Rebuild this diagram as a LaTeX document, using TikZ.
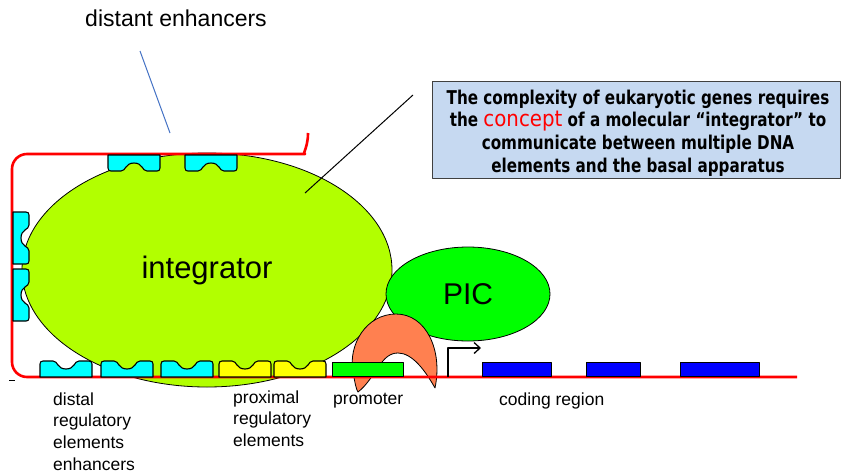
\documentclass[tikz,border=0pt]{standalone}
\usepackage{fontspec}
\setmainfont{Liberation Sans}
\newfontfamily\boxfont[FakeStretch=0.8]{DejaVu Sans}
\newfontfamily\conceptfont[FakeStretch=0.9]{DejaVu Sans}
\usetikzlibrary{shapes.geometric,arrows.meta}

\definecolor{dnared}{RGB}{255,0,0}
\definecolor{integgreen}{RGB}{178,255,0}
\definecolor{picgreen}{RGB}{0,255,0}
\definecolor{sitecyan}{RGB}{0,255,255}
\definecolor{siteyellow}{RGB}{255,255,0}
\definecolor{exonblue}{RGB}{0,0,255}
\definecolor{factororange}{RGB}{255,128,80}
\definecolor{noteblue}{RGB}{198,217,241}
\definecolor{pointerblue}{RGB}{68,114,196}

\tikzset{
  pics/site/.style={code={
    \path[pic actions] (0,0) -- (0,13) .. controls (0,15) and (1,16) .. (3,16)
      -- (13,16) .. controls (18,16) and (17,8) .. (26,8)
      .. controls (35,8) and (34,16) .. (39,16)
      -- (49,16) .. controls (51,16) and (52,15) .. (52,13) -- (52,0) -- cycle;
  }},
}

\begin{document}
\begin{tikzpicture}[x=1pt,y=-1pt,line join=round,
  dna/.style={draw=dnared,line width=2.6pt},
  sitebox/.style={draw=black,line width=1.1pt},
  bar/.style={draw=black,line width=0.9pt,inner sep=0pt,minimum height=14pt,anchor=south west},
  label/.style={font=\fontsize{17.5}{21.6}\selectfont,align=left,inner sep=0pt},
]
\useasboundingbox (0,0) rectangle (841,472);

% the integrator and the pre-initiation complex
\node[ellipse,draw=black,line width=0.8pt,fill=integgreen,minimum width=370pt,
      minimum height=234pt,inner sep=0pt,font=\fontsize{31}{31}\selectfont]
      (integ) at (207,270) {integrator};
\node[ellipse,draw=black,line width=0.8pt,fill=picgreen,minimum width=164pt,
      minimum height=94pt,inner sep=0pt,font=\fontsize{30}{30}\selectfont]
      (picc) at (468,294) {PIC};

% crescent-shaped factor sitting on the promoter
\path[draw=black,line width=0.8pt,fill=factororange]
  (435,388) .. controls (443,350) and (426,314) .. (396,314)
  .. controls (366,314) and (348,345) .. (353,372)
  .. controls (355,383) and (356,389) .. (358,392)
  .. controls (366,386) and (372,376) .. (378,368)
  .. controls (384,358) and (390,353) .. (398,353)
  .. controls (412,353) and (425,370) .. (435,388) -- cycle;

% DNA strand looping round the integrator
\draw[dna,rounded corners=15pt]
  (308,133) .. controls (308,148) and (302,154) .. (290,154)
  -- (12,154) -- (12,377) -- (797,377);
\draw[line width=0.8pt] (9,380) -- (15,380);

% distant enhancers on the upper strand
\pic[sitebox,fill=sitecyan] (top1) at (108,155) {site};
\pic[sitebox,fill=sitecyan] (top2) at (185,155) {site};
% enhancers on the left strand
\pic[sitebox,fill=sitecyan,cm={0,-1,-1,0,(0,0)}] (left1) at (13,212) {site};
\pic[sitebox,fill=sitecyan,cm={0,-1,-1,0,(0,0)}] (left2) at (13,269) {site};
% distal and proximal elements on the lower strand
\pic[sitebox,fill=sitecyan,yscale=-1] (dist1) at (40,377) {site};
\pic[sitebox,fill=sitecyan,yscale=-1] (dist2) at (101,377) {site};
\pic[sitebox,fill=sitecyan,yscale=-1] (dist3) at (161,377) {site};
\pic[sitebox,fill=siteyellow,yscale=-1] (prox1) at (219,377) {site};
\pic[sitebox,fill=siteyellow,yscale=-1] (prox2) at (274,377) {site};

% promoter and coding exons
\node[bar,fill=picgreen,minimum width=71pt] (prom) at (332,377) {};
\node[bar,fill=exonblue,minimum width=69pt] (ex1) at (482,377) {};
\node[bar,fill=exonblue,minimum width=54pt] (ex2) at (586,377) {};
\node[bar,fill=exonblue,minimum width=79pt] (ex3) at (680,377) {};

% transcription start
\coordinate (tss) at (448,377);
\coordinate (tssturn) at (448,348);
\coordinate (tssend) at (481,348);
\draw[line width=1.3pt,-{Straight Barb[length=6pt,width=11pt]}] (tss) -- (tssturn) -- (tssend);

% labels
\node[font=\fontsize{23}{23}\selectfont,anchor=base,inner sep=0pt] (distant) at (176,26) {distant enhancers};
\coordinate (distanttip) at (140,51);
\coordinate (distantend) at (170,133);
\draw[pointerblue,line width=1pt] (distanttip) -- (distantend);

\node[label,anchor=north west] (distlab) at (53,392.5) {distal\\regulatory\\elements\\enhancers};
\node[label,anchor=north west] (proxlab) at (233,390.5) {proximal\\regulatory\\elements};
\node[label,anchor=base west] (promlab) at (333,404) {promoter};
\node[label,anchor=base west] (codlab) at (499,405) {coding region};

% explanatory note
\node[draw=black!75,line width=1.4pt,fill=noteblue,minimum width=408pt,minimum height=97pt,
      anchor=north west,inner sep=0pt] (note) at (432,81) {};
\node[font=\boxfont\bfseries\fontsize{19}{22.6}\selectfont,align=center,inner sep=0pt]
  (notetext) at (638,133)
  {The complexity of eukaryotic genes requires\\
   the {\conceptfont\mdseries\fontsize{22}{22}\selectfont\color{dnared}concept} of a molecular “integrator” to\\
   communicate between multiple DNA\\
   elements and the basal apparatus};
\coordinate (calloutstart) at (413,95);
\coordinate (calloutend) at (305,193);
\draw[black,line width=1pt] (calloutstart) -- (calloutend);
\end{tikzpicture}
\end{document}
